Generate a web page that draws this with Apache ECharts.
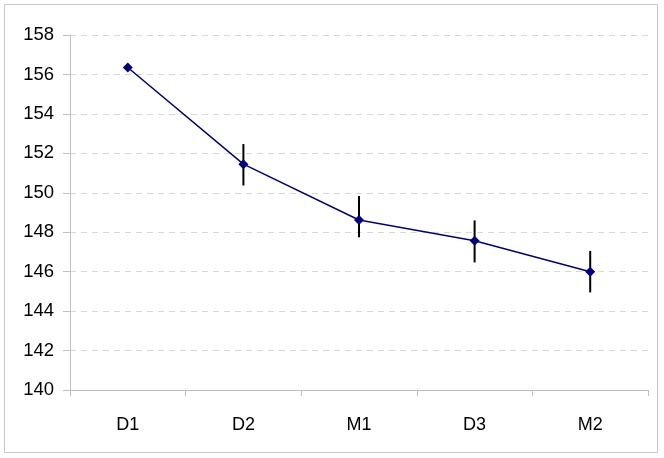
<!DOCTYPE html>
<html>
<head>
<meta charset="utf-8">
<script src="https://cdn.jsdelivr.net/npm/echarts@6/dist/echarts.min.js"></script>
<style>
  html, body { margin: 0; padding: 0; background: #fff; }
  #chart { width: 664px; height: 458px; }
</style>
</head>
<body>
<div id="chart"></div>
<script>
// categories and values
var categories = ['D1', 'D2', 'M1', 'D3', 'M2'];
var means = [156.35, 151.45, 148.62, 147.57, 146.0];
var lows = [null, 150.37, 147.74, 146.47, 144.95];
var highs = [null, 152.47, 149.84, 148.6, 147.05];
var yTicks = [140, 142, 144, 146, 148, 150, 152, 154, 156, 158];

var lineColor = '#000080';
var gridColor = '#c0c0c0';
var labelColor = '#000';

var errData = [];
for (var i = 0; i < categories.length; i++) {
  if (lows[i] != null) errData.push([i, lows[i], highs[i]]);
}

var myChart = echarts.init(document.getElementById('chart'));
myChart.setOption({
  animation: false,
  graphic: [{
    type: 'rect',
    shape: { x: 4.5, y: 4.5, width: 653, height: 448 },
    style: { fill: 'none', stroke: '#c8c8c8', lineWidth: 1 },
    silent: true
  }],
  grid: { left: 70, top: 35, right: 16, bottom: 68 },
  xAxis: {
    type: 'category',
    data: categories,
    boundaryGap: true,
    axisLine: { lineStyle: { color: gridColor } },
    axisTick: { show: true, alignWithLabel: false, length: 6, lineStyle: { color: gridColor } },
    axisLabel: { color: labelColor, fontSize: 18, fontFamily: 'Liberation Sans', margin: 26 }
  },
  yAxis: {
    type: 'value',
    min: yTicks[0],
    max: yTicks[yTicks.length - 1],
    interval: 2,
    axisLine: { show: true, lineStyle: { color: gridColor } },
    axisTick: { show: true, length: 7, lineStyle: { color: gridColor } },
    splitLine: { lineStyle: { color: '#d8d8d8', type: [6, 5] } },
    axisLabel: { color: labelColor, fontSize: 18.5, fontFamily: 'Liberation Sans', margin: 16 }
  },
  series: [{
    type: 'custom',
    z: 3,
    data: errData,
    renderItem: function (params, api) {
      var top = api.coord([api.value(0), api.value(2)]);
      var bot = api.coord([api.value(0), api.value(1)]);
      return {
        type: 'line',
        shape: { x1: top[0], y1: top[1], x2: bot[0], y2: bot[1] },
        style: { stroke: '#000', lineWidth: 2 }
      };
    }
  }, {
    type: 'line',
    z: 4,
    data: means,
    symbol: 'diamond',
    symbolSize: 10,
    lineStyle: { color: lineColor, width: 1.5 },
    itemStyle: { color: lineColor }
  }]
});
</script>
</body>
</html>
